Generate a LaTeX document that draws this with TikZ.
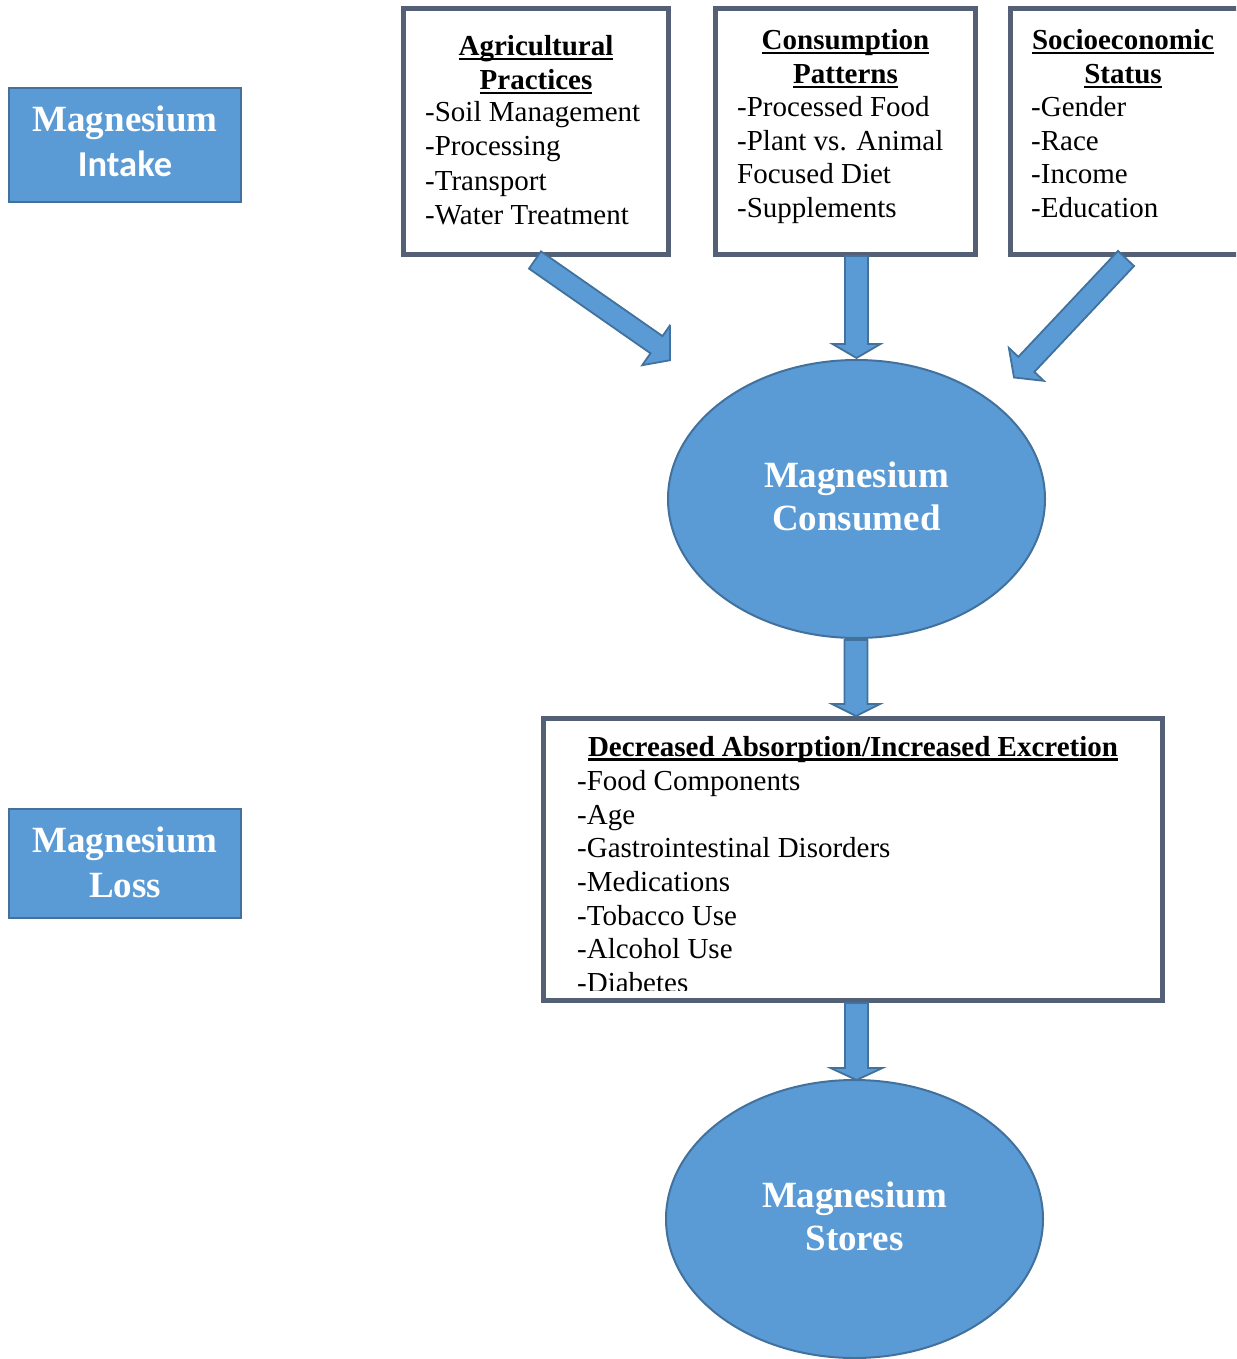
\documentclass[tikz,border=0pt]{standalone}
\usepackage{fontspec}
\setmainfont{Liberation Serif}
\newfontfamily\calibrifont{Carlito}
\usetikzlibrary{calc,shapes.geometric}
\definecolor{mgfill}{RGB}{91,155,213}
\definecolor{mgline}{RGB}{65,113,156}
\definecolor{boxline}{RGB}{83,96,117}
\newcommand\ulhead[1]{\setbox0=\hbox{#1}\rlap{\rule[-4.5pt]{\wd0}{2.2pt}}\box0}
% #1 tail, #2 tip, #3 shaft half width, #4 head half width, #5 head length
\newcommand\blockarrow[5]{%
  \coordinate (bh) at ($(#2)!#5!(#1)$);
  \draw[blockarr] ($(#1)!#3!90:(#2)$) -- ($(bh)!#3!90:(#2)$) -- ($(bh)!#4!90:(#2)$) -- (#2)
    -- ($(bh)!#4!-90:(#2)$) -- ($(bh)!#3!-90:(#2)$) -- ($(#1)!#3!-90:(#2)$) -- cycle;}
\begin{document}
\begin{tikzpicture}[x=1pt,y=-1pt,
  greybox/.style={draw=boxline, line width=5pt, fill=white, inner sep=0pt, outer sep=0pt},
  bluebox/.style={draw=mgline, line width=2.5pt, fill=mgfill, inner sep=0pt, outer sep=0pt},
  blueell/.style={ellipse, draw=mgline, line width=2pt, fill=mgfill, inner sep=0pt, outer sep=0pt},
  blockarr/.style={draw=mgline, line width=1.8pt, fill=mgfill, line join=miter},
  item/.style={anchor=base west, inner sep=0pt, font=\fontsize{29}{34}\selectfont},
  head/.style={anchor=base, inner sep=0pt, font=\fontsize{29}{34}\selectfont\bfseries},
  title/.style={anchor=base, inner sep=0pt, text=white, font=\fontsize{37}{44}\selectfont\bfseries},
  ctitle/.style={anchor=base, inner sep=0pt, text=white, font=\fontsize{36.5}{44}\selectfont\calibrifont\bfseries}]
\useasboundingbox (0,0) rectangle (1236,1359);
\clip (0,0) rectangle (1236,1359);

% left labels
\node[bluebox, minimum width=232pt, minimum height=114pt] (intake) at (125,145) {};
\node[title] (intake1) at (125,132) {Magnesium};
\node[ctitle] (intake2) at (125,177) {Intake};
\node[bluebox, minimum width=232pt, minimum height=109pt] (loss) at (125,863.5) {};
\node[title] (loss1) at (125,852.5) {Magnesium};
\node[title] (loss2) at (125,897) {Loss};

% top boxes
\node[greybox, minimum width=265pt, minimum height=245pt] (agri) at (535.5,131.5) {};
\node[head] (agrih1) at (536,56) {\ulhead{Agricultural}};
\node[head] (agrih2) at (536,89.5) {\ulhead{Practices}};
\node[item] (agri1) at (425,122) {-Soil Management};
\node[item] (agri2) at (425,156) {-Processing};
\node[item] (agri3) at (425,190) {-Transport};
\node[item] (agri4) at (425,224) {-Water Treatment};

\node[greybox, minimum width=260pt, minimum height=245pt] (cons) at (845.5,131.5) {};
\node[head] (consh1) at (845.5,50) {\ulhead{Consumption}};
\node[head] (consh2) at (845.5,83.5) {\ulhead{Patterns}};
\node[item] (cons1) at (737,116.5) {-Processed Food};
\node[item] (cons2) at (737,150.5) {-Plant vs. Animal};
\node[item] (cons3) at (737,184) {Focused Diet};
\node[item] (cons4) at (737,218) {-Supplements};

\node[greybox, minimum width=290pt, minimum height=245pt] (socio) at (1155.5,131.5) {};
\node[head] (socioh1) at (1123,50) {\ulhead{Socioeconomic}};
\node[head] (socioh2) at (1123,83.5) {\ulhead{Status}};
\node[item] (socio1) at (1031,116.5) {-Gender};
\node[item] (socio2) at (1031,150.5) {-Race};
\node[item] (socio3) at (1031,184) {-Income};
\node[item] (socio4) at (1031,218) {-Education};

% consumed ellipse
\node[blueell, minimum width=377pt, minimum height=278pt] (consumed) at (856.5,499) {};
\node[title] (consumed1) at (856.5,487) {Magnesium};
\node[title] (consumed2) at (856.5,530) {Consumed};

% decreased absorption box
\node[greybox, minimum width=619pt, minimum height=282pt] (dec) at (853,859.5) {};
\node[head] (dech) at (853,756) {\ulhead{Decreased Absorption/Increased Excretion}};
\begin{scope}
\clip (546,721) rectangle (1160,990);
\node[item] (dec1) at (577,790) {-Food Components};
\node[item] (dec2) at (577,824) {-Age};
\node[item] (dec3) at (577,857.5) {-Gastrointestinal Disorders};
\node[item] (dec4) at (577,891) {-Medications};
\node[item] (dec5) at (577,925) {-Tobacco Use};
\node[item] (dec6) at (577,958.5) {-Alcohol Use};
\node[item] (dec7) at (577,992.5) {-Diabetes};
\end{scope}

% stores ellipse
\node[blueell, minimum width=377pt, minimum height=278pt] (stores) at (854.5,1219) {};
\node[title] (stores1) at (854.5,1207) {Magnesium};
\node[title] (stores2) at (854.5,1250) {Stores};

% arrows
\coordinate (a1t) at (535,260);
\coordinate (a1h) at (677,359);
\begin{scope}
\clip (0,0) rectangle (670,1359);
\blockarrow{a1t}{a1h}{10.5pt}{25pt}{25pt}
\end{scope}
\draw[mgline, line width=1.8pt] (670,325) -- (670,360.5);

\coordinate (a2t) at (856.5,256);
\coordinate (a2h) at ($(consumed.north)+(0,-2)$);
\blockarrow{a2t}{a2h}{11.5pt}{24pt}{14pt}

\coordinate (a3t) at (1126,258.5);
\coordinate (a3h) at (1014,377.5);
\blockarrow{a3t}{a3h}{11pt}{24pt}{18pt}

\coordinate (a4t) at (856,640);
\coordinate (a4h) at (856,716);
\blockarrow{a4t}{a4h}{11.5pt}{24pt}{12pt}

\coordinate (a5t) at (856.5,1003);
\coordinate (a5h) at (856.5,1080);
\blockarrow{a5t}{a5h}{11.5pt}{26pt}{12pt}
\end{tikzpicture}
\end{document}
